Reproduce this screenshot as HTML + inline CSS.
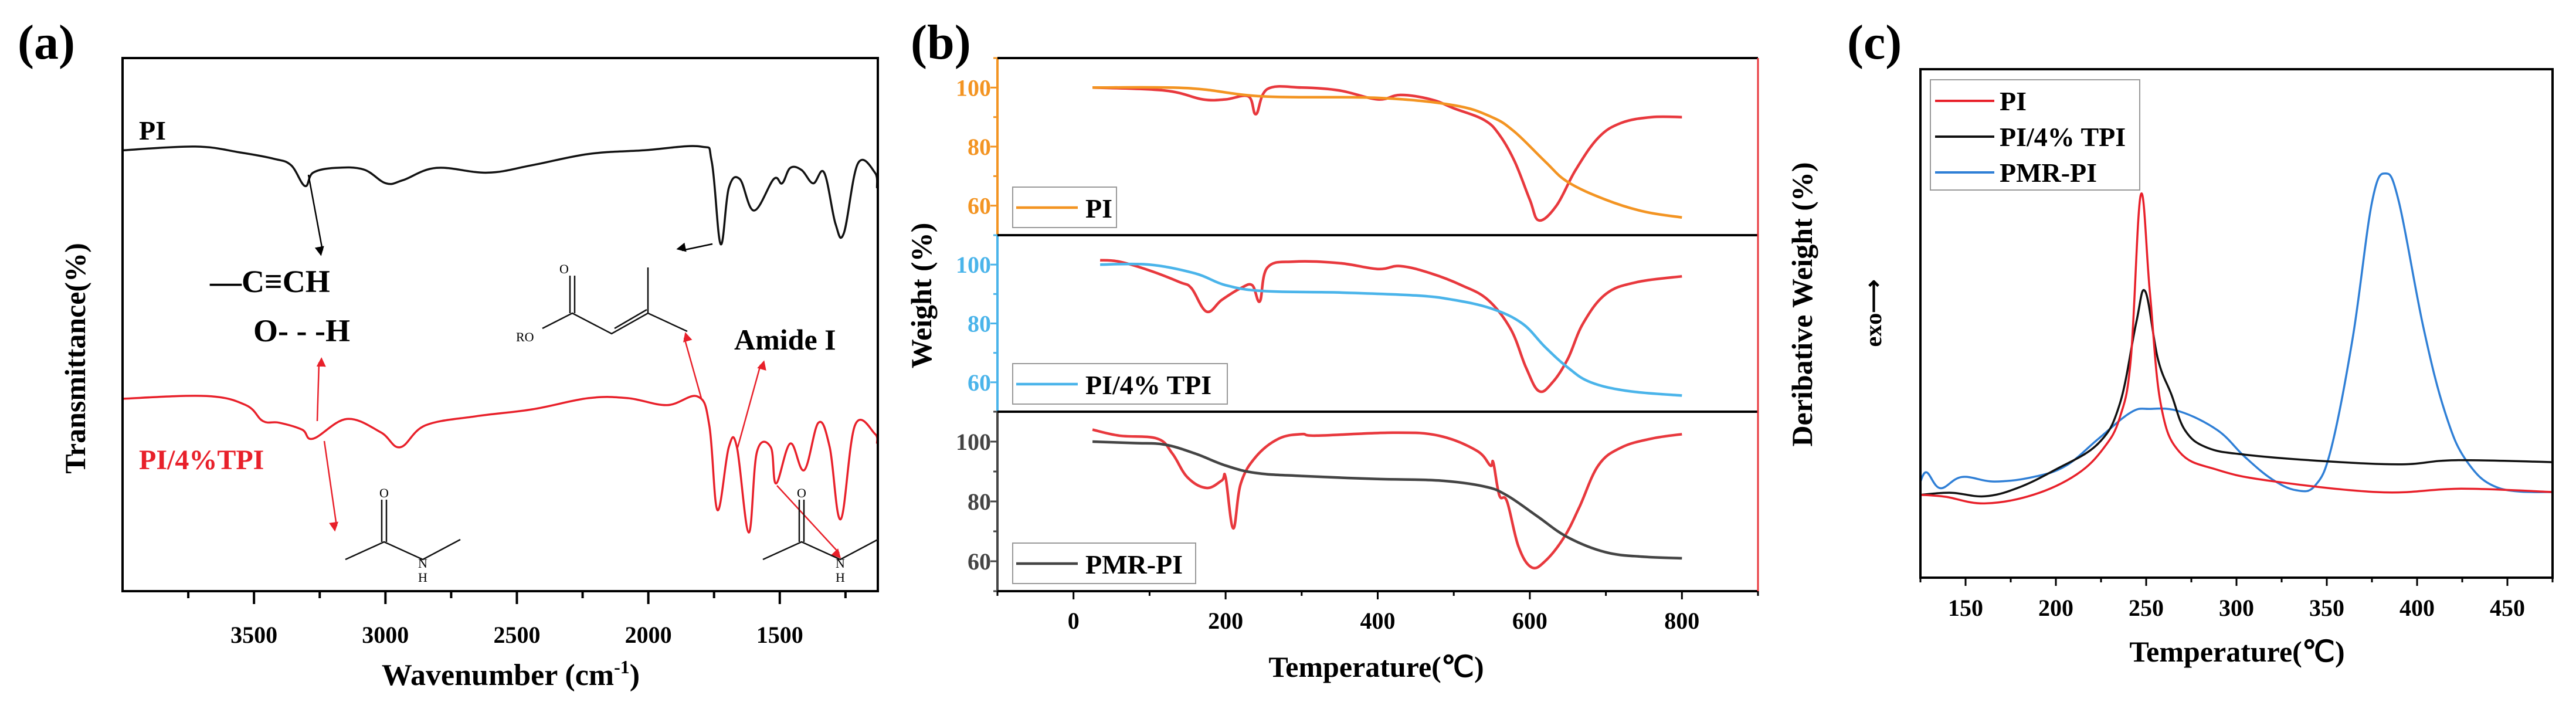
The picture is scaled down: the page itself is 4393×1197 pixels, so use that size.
<!DOCTYPE html>
<html><head><meta charset="utf-8"><style>
html,body{margin:0;padding:0;background:#fff;}
svg{display:block;font-family:"Liberation Serif",serif;font-weight:bold;}
</style></head><body>
<svg id="fig" width="4393" height="1197" viewBox="0 0 4393 1197" xmlns="http://www.w3.org/2000/svg">
<g id="pa"></g>
<g id="pb"></g>
<g id="pc"></g>
</svg>
<script>
// ---- Panel (a) FTIR data ----
const aPIwn = [4000,3723,3554,3424,3359,3306,3275,3190,3083,2998,2933,2806,2612,2442,2228,2016,1801,1759,1725,1694,1652,1598,1523,1491,1460,1417,1373,1331,1288,1256,1203,1138,1130];
const aPIt  = [82.7,83.4,82.3,81.1,79.9,76.0,78.5,79.4,79.1,76.5,77.1,79.4,78.5,79.9,82.0,82.7,83.4,80.6,65.1,75.6,77.3,71.4,77.3,76.5,79.4,79.0,76.5,78.5,68.9,67.2,80.2,78.5,75.6];
const aTPIwn = [4000,3681,3531,3466,3404,3317,3275,3147,3018,2944,2848,2656,2442,2228,2078,1929,1812,1768,1737,1694,1663,1618,1587,1534,1514,1460,1407,1353,1310,1268,1214,1138,1130];
const aTPIt  = [36.1,36.6,34.9,31.9,31.6,30.3,28.6,32.3,29.8,27.0,31.1,32.8,34.1,36.2,36.2,34.9,36.5,31.1,15.2,27.0,27.0,11.0,26.1,27.0,20.2,27.7,22.7,31.6,27.0,13.5,31.1,29.5,27.7];
const aTicks = [3500,3000,2500,2000,1500];
// ---- Panel (b) TGA / DTG data ----
const bPIT = [25,150,250,400,500,550,580,620,650,700,750,800];
const bPIW = [100,99.8,97,96.5,94,90,85,75,68,62,58,56];
const bPIdT = [25,120,170,200,230,240,255,300,350,400,430,470,500,540,560,580,600,612,635,660,690,720,760,800];
const bPIdV = [100,99,96,96,97,91,99.5,100,99,96,97.5,96,93,89,84,75,62,55,60,72,83,88,90,90];
const bTPIT = [35,100,160,200,250,350,450,500,550,590,620,650,680,730,800];
const bTPIW = [100,100,97,93,91,90.5,89.5,88,85,80,72,65,60,57,55.5];
const bTPIdT = [35,60,100,140,155,175,195,220,235,245,255,290,350,400,430,470,510,545,575,595,612,630,650,670,700,740,800];
const bTPIdV = [101.5,101,98,94,92,84,88,92,93,87.5,99,101,100.5,98.5,99.5,97,93,88,78,65,57,60,68,80,90,94,96];
const bPMRT = [25,80,120,160,200,240,300,400,480,540,570,610,650,700,750,800];
const bPMRW = [100,99.5,99,96,92,89.5,88.5,87.5,87,85,82,75,68,63,61.5,61];
const bPMRdT = [25,60,110,130,150,175,195,200,210,220,240,270,300,320,420,480,530,548,552,560,570,585,602,620,645,665,690,720,760,800];
const bPMRdV = [104,102,101,96,88,84.5,87,88,71,86,95,101,102.5,102,103,102,97,92,93,82,80,65,58,60,68,78,92,98,101,102.5];
const bXTicks = [0,200,400,600,800];
const bYTicks = [60,80,100];
// ---- Panel (c) DSC data ----
const cPIT = [125,139,160.5,187.5,211.5,226.5,235.5,241.5,247,252,258,268.5,289.5,319.5,379.5,424.5,477];
const cPIV = [16.3,15.9,14.6,16.3,20.3,25.5,31.6,43,75.3,56.3,34.3,24.7,21.2,19,16.8,17.5,16.8];
const cTPIT = [125,142,160.5,178.5,199.5,223.5,235.5,244.5,249.5,256.5,264,271.5,283.5,304.5,349.5,391.5,421.5,477];
const cTPIV = [16.3,16.7,16,17.6,21.2,26.4,34.3,50.2,56.3,43,36,29,25.6,24.2,22.9,22.3,23.1,22.7];
const cPMRT = [125,128.5,136,148,166,187.5,205.5,223.5,241.5,252,268.5,289.5,304.5,319.5,333,343.5,352.5,364.5,375,382.5,390,403.5,415.5,427.5,445.5,477];
const cPMRV = [18.9,20.7,17.6,19.8,18.9,19.8,22,27.3,32.5,33.2,32.7,29,23.8,19.4,17.2,18.1,25.5,47.5,73.8,79.5,73.8,49.2,32.5,22.9,17.6,16.8];
const cXTicks = [150,200,250,300,350,400,450];

const NS="http://www.w3.org/2000/svg";
function mk(parent,tag,attrs){const e=document.createElementNS(NS,tag);for(const k in attrs)e.setAttribute(k,attrs[k]);parent.appendChild(e);return e;}
function txt(parent,x,y,s,attrs){const e=mk(parent,'text',Object.assign({x:x,y:y},attrs||{}));e.textContent=s;return e;}
function pathFrom(xs,ys,fx,fy){
 const P=xs.map((v,i)=>[fx(v),fy(ys[i])]);
 let d='M'+P[0][0].toFixed(1)+','+P[0][1].toFixed(1);
 const k=0.18;
 for(let i=0;i<P.length-1;i++){
  const p0=P[Math.max(0,i-1)],p1=P[i],p2=P[i+1],p3=P[Math.min(P.length-1,i+2)];
  const c1=[p1[0]+(p2[0]-p0[0])*k,p1[1]+(p2[1]-p0[1])*k];
  const c2=[p2[0]-(p3[0]-p1[0])*k,p2[1]-(p3[1]-p1[1])*k];
  d+=' C'+c1[0].toFixed(1)+','+c1[1].toFixed(1)+' '+c2[0].toFixed(1)+','+c2[1].toFixed(1)+' '+p2[0].toFixed(1)+','+p2[1].toFixed(1);
 }
 return d;}

// ================= Panel A =================
const A=document.getElementById('pa');
const aL=209,aR=1497,aT=99,aB=1008;
const ax=w=>aL+(4000-w)*(aR-aL)/(4000-1127);
const ay=t=>aB-t*(aB-aT)/100;
let e;
e=txt(A,30,100,'(a)',{'font-size':84});

e=mk(A,'path',{d:pathFrom(aPIwn,aPIt,ax,ay),fill:'none',stroke:'#111',"stroke-width":3.5});

e=mk(A,'path',{d:pathFrom(aTPIwn,aTPIt,ax,ay),fill:'none',stroke:'#e8202a',"stroke-width":3.5});

e=mk(A,'rect',{x:aL,y:aT,width:aR-aL,height:aB-aT,fill:'none',stroke:'#000',"stroke-width":4});

for(let w=3750;w>=1250;w-=250){const big=aTicks.includes(w);const t=mk(A,'line',{x1:ax(w),x2:ax(w),y1:aB,y2:aB+(big?22:12),stroke:'#000',"stroke-width":4});
}
aTicks.forEach(w=>{const t=txt(A,ax(w),1096,String(w),{'font-size':40,'text-anchor':'middle'});
});
e=txt(A,871,1168,'',{'font-size':52,'text-anchor':'middle'});e.innerHTML='Wavenumber (cm<tspan dy="-20" font-size="32">-1</tspan><tspan dy="20">)</tspan>';

e=txt(A,0,0,'Transmittance(%)',{'font-size':50,'text-anchor':'middle',transform:'translate(145,611) rotate(-90)'});

e=txt(A,237,238,'PI',{'font-size':46});
e=txt(A,237,800,'PI/4%TPI',{'font-size':48,fill:'#e8202a'});
e=txt(A,358,498,'—C≡CH',{'font-size':54});
e=txt(A,432,582,'O- - -H',{'font-size':54});
e=txt(A,1252,596,'Amide I',{'font-size':50});
const defs=mk(A,'defs',{});
const m1=mk(defs,'marker',{id:'ab',markerWidth:18,markerHeight:18,refX:7,refY:4,orient:'auto',markerUnits:'userSpaceOnUse'});mk(m1,'path',{d:'M0,0 L8,4 L0,8 z',fill:'#000',transform:'scale(2)'});
const m2=mk(defs,'marker',{id:'ar',markerWidth:18,markerHeight:18,refX:7,refY:4,orient:'auto',markerUnits:'userSpaceOnUse'});mk(m2,'path',{d:'M0,0 L8,4 L0,8 z',fill:'#e8202a',transform:'scale(2)'});
[[526,298,550,427,'#000','ab'],[1215,416,1163,427,'#000','ab'],[541,718,544,618,'#e8202a','ar'],[553,752,574,897,'#e8202a','ar'],[1196,679,1167,576,'#e8202a','ar'],[1258,763,1297,622,'#e8202a','ar'],[1325,828,1431,943,'#e8202a','ar']].forEach(a=>{
const l=mk(A,'line',{x1:a[0],y1:a[1],x2:a[2],y2:a[3],stroke:a[4],"stroke-width":2.5,'marker-end':'url(#'+a[5]+')'});
});
e=mk(A,'g',{stroke:'#111','stroke-width':2.5,fill:'none'});
mk(e,'path',{d:'M925,560 L976,534 L1043,569 L1105,534 L1172,565 M1105,534 L1105,456 M972,534 L972,470 M980,534 L980,470 M1048,560 L1103,528'});
txt(A,962,466,'O',{'font-size':22,'font-weight':'normal','text-anchor':'middle'});
txt(A,880,582,'RO',{'font-size':22,'font-weight':'normal'});
function amide(g,cx){mk(g,'path',{d:`M${cx-66},954 L${cx},924 L${cx+66},954 L${cx+130},920 M${cx-4},924 L${cx-4},852 M${cx+4},924 L${cx+4},852`});
txt(A,cx,848,'O',{'font-size':22,'font-weight':'normal','text-anchor':'middle'});
txt(A,cx+66,968,'N',{'font-size':22,'font-weight':'normal','text-anchor':'middle'});
txt(A,cx+66,992,'H',{'font-size':22,'font-weight':'normal','text-anchor':'middle'});}
e=mk(A,'g',{stroke:'#111','stroke-width':2.5,fill:'none'});amide(e,655);
e=mk(A,'g',{stroke:'#111','stroke-width':2.5,fill:'none'});amide(e,1367);

// ================= Panel B =================
const B=document.getElementById('pb');
const bL=1701,bR=2998,bT=99,bB=1008;
const bx=t=>bL+(t+100)*(bR-bL)/1000;
const panels=[{top:99,bot:401,c:'#f39422',leg:'PI',lw:177,T:bPIT,W:bPIW,dT:bPIdT,dV:bPIdV,n:'pi'},
{top:401,bot:702,c:'#4ab4ea',leg:'PI/4% TPI',lw:366,T:bTPIT,W:bTPIW,dT:bTPIdT,dV:bTPIdV,n:'pi-tpi'},
{top:702,bot:1008,c:'#444',leg:'PMR-PI',lw:312,T:bPMRT,W:bPMRW,dT:bPMRdT,dV:bPMRdV,n:'pmr-pi'}];
e=txt(B,1553,100,'(b)',{'font-size':84});
panels.forEach(p=>{
 const by=v=>p.bot-(v-50)*(p.bot-p.top)/60;
 const cp=mk(B,'clipPath',{id:'cp'+p.n});mk(cp,'rect',{x:bL,y:p.top,width:bR-bL,height:p.bot-p.top});
 let l=mk(B,'path',{d:pathFrom(p.dT,p.dV,bx,by),fill:'none',stroke:'#e8383d','stroke-width':4.5,'clip-path':'url(#cp'+p.n+')'});
 
 l=mk(B,'path',{d:pathFrom(p.T,p.W,bx,by),fill:'none',stroke:p.c,'stroke-width':4.5,'clip-path':'url(#cp'+p.n+')'});
 
 l=mk(B,'line',{x1:bL,x2:bL,y1:p.top,y2:p.bot,stroke:p.c,'stroke-width':4});
 
 for(let v=50;v<=110;v+=10){const t=mk(B,'line',{x1:bL,x2:bL-(v%20==0?12:7),y1:by(v),y2:by(v),stroke:p.c,'stroke-width':3});
 }
 bYTicks.forEach(v=>{const t=txt(B,1690,by(v)+14,String(v),{'font-size':40,'text-anchor':'end',fill:p.c});
 });
 const ly=p.bot-82;
 const g=mk(B,'g',{});
 mk(g,'rect',{x:1727,y:ly,width:p.lw,height:69,fill:'#fff',stroke:'#999','stroke-width':2});
 mk(g,'line',{x1:1733,x2:1838,y1:ly+35,y2:ly+35,stroke:p.c,'stroke-width':4.5});
 txt(g,1851,ly+52,p.leg,{'font-size':46});
});
e=mk(B,'line',{x1:bL,x2:bR,y1:bT,y2:bT,stroke:'#000','stroke-width':4});
[401,702].forEach(y=>{const l=mk(B,'line',{x1:bL,x2:bR,y1:y,y2:y,stroke:'#000','stroke-width':4});});
e=mk(B,'line',{x1:bL,x2:bR,y1:bB,y2:bB,stroke:'#000','stroke-width':4});
e=mk(B,'line',{x1:bR,x2:bR,y1:bT,y2:bB,stroke:'#e8383d','stroke-width':3});
for(let t=-100;t<=900;t+=100){const l=mk(B,'line',{x1:bx(t),x2:bx(t),y1:bB,y2:bB+(t%200==0?14:8),stroke:'#000','stroke-width':3});
}
bXTicks.forEach(t=>{const l=txt(B,bx(t),1072,String(t),{'font-size':40,'text-anchor':'middle'});});
e=txt(B,2347,1154,'Temperature(℃)',{'font-size':50,'text-anchor':'middle'});
e=txt(B,0,0,'Weight (%)',{'font-size':50,'text-anchor':'middle',transform:'translate(1588,504) rotate(-90)'});
e=txt(B,0,0,'Deribative Weight (%)',{'font-size':50,'text-anchor':'middle',transform:'translate(3090,519) rotate(-90)'});

// ================= Panel C =================
const C=document.getElementById('pc');
const cL=3275,cR=4353,cT=118,cB=985;
const cx=t=>cL+(t-125)*(cR-cL)/350;
const cy=v=>cB-v*(cB-cT)/100;
e=txt(C,3150,100,'(c)',{'font-size':84});
e=txt(C,0,0,'exo⟶',{'font-size':40,'text-anchor':'middle',transform:'translate(3208,534) rotate(-90)'});
const ccp=mk(C,'clipPath',{id:'cpc'});mk(ccp,'rect',{x:cL,y:cT,width:cR-cL,height:cB-cT});
[[cPMRT,cPMRV,'#2f7fd6','pmr-pi-dsc-line'],[cTPIT,cTPIV,'#111','pi-tpi-dsc-line'],[cPIT,cPIV,'#e8202a','pi-dsc-line']].forEach(s=>{
const l=mk(C,'path',{d:pathFrom(s[0],s[1],cx,cy),fill:'none',stroke:s[2],'stroke-width':3.5,'clip-path':'url(#cpc)'});
});
e=mk(C,'rect',{x:cL,y:cT,width:cR-cL,height:cB-cT,fill:'none',stroke:'#000','stroke-width':4});
for(let t=125;t<=475;t+=25){const l=mk(C,'line',{x1:cx(t),x2:cx(t),y1:cB,y2:cB+(t%50==0?14:8),stroke:'#000','stroke-width':3});
}
cXTicks.forEach(t=>{const l=txt(C,cx(t),1050,String(t),{'font-size':40,'text-anchor':'middle'});});
e=txt(C,3815,1128,'Temperature(℃)',{'font-size':50,'text-anchor':'middle'});
const lg=mk(C,'g',{});
mk(lg,'rect',{x:3292,y:136,width:357,height:188,fill:'#fff',stroke:'#999','stroke-width':2});
[['PI','#e8202a',172],['PI/4% TPI','#111',233],['PMR-PI','#2f7fd6',294]].forEach(r=>{
const g=mk(lg,'g',{});
mk(g,'line',{x1:3300,x2:3401,y1:r[2],y2:r[2],stroke:r[1],'stroke-width':4});
txt(g,3410,r[2]+16,r[0],{'font-size':46});});
</script>
</body></html>
